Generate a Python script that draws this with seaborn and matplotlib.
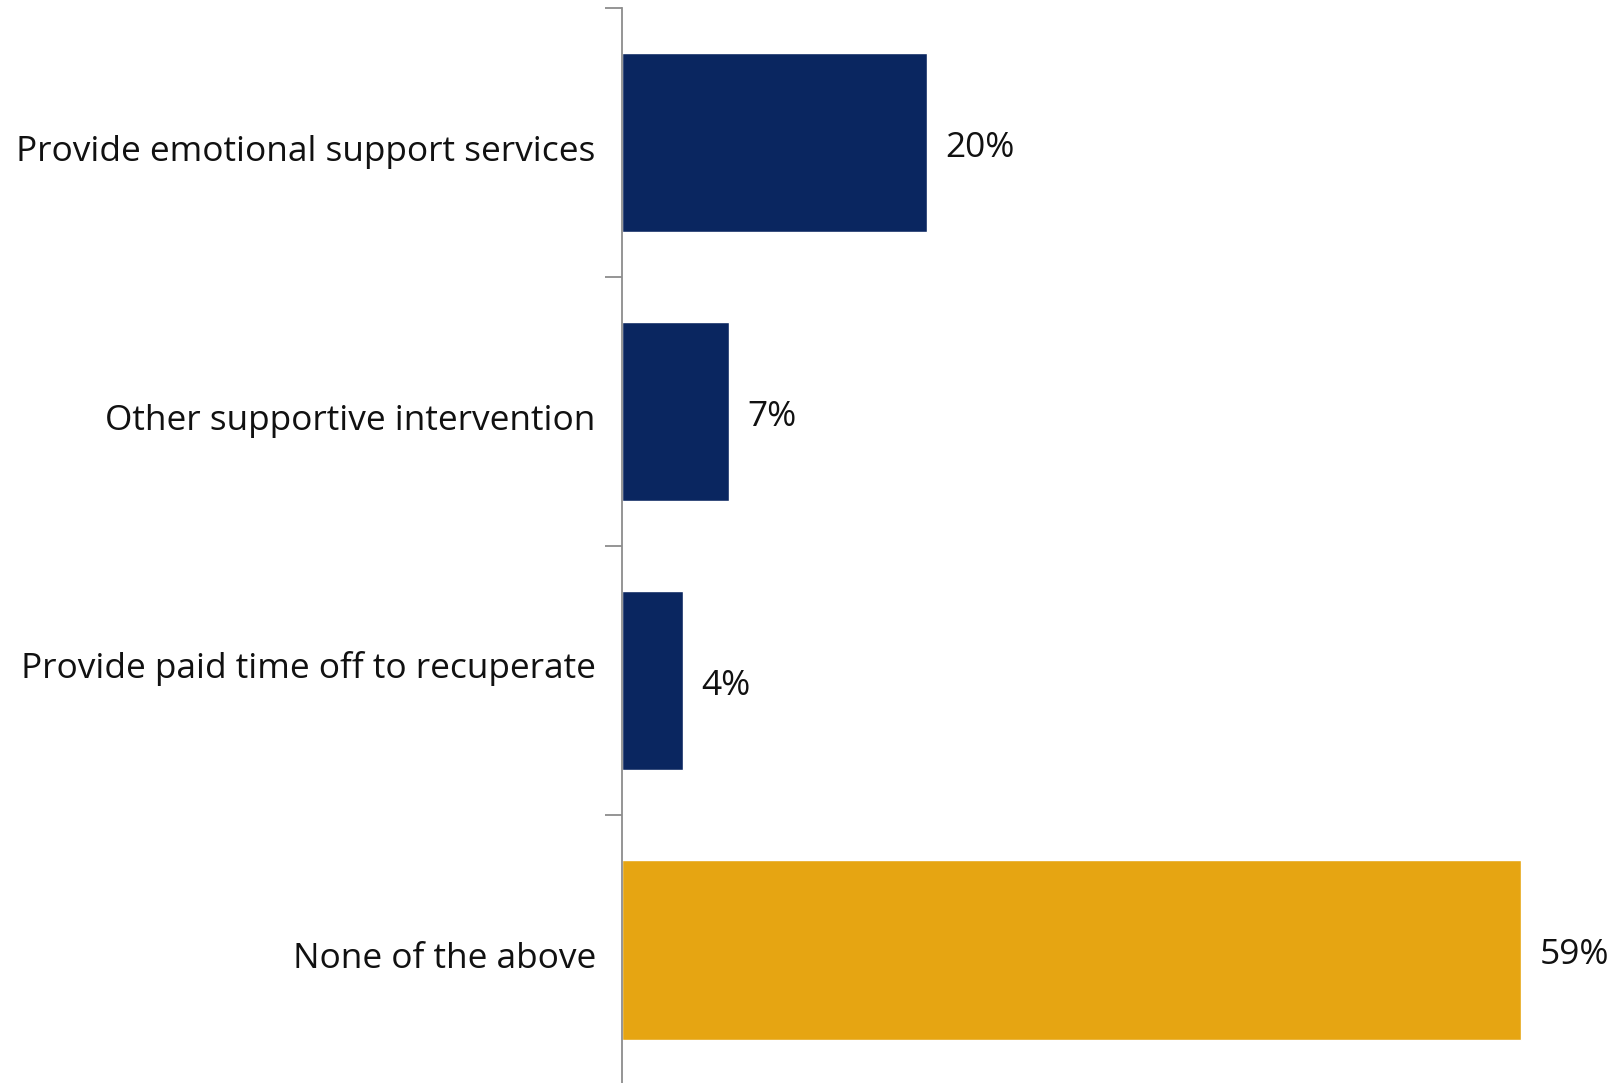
import matplotlib
matplotlib.use("Agg")
import matplotlib.pyplot as plt
import matplotlib.transforms as mtransforms
import seaborn as sns
import pandas as pd

categories = [
    "Provide emotional support services",
    "Other supportive intervention",
    "Provide paid time off to recuperate",
    "None of the above",
]
values = [20, 7, 4, 59]
value_labels = ["20%", "7%", "4%", "59%"]
bar_colors = ["#0A2660", "#0A2660", "#0A2660", "#E6A512"]
# vertical nudge of each category label, in pixels (positive = up)
label_nudge = [0, 0, 21, 0]

sns.set_theme(style="white")
plt.rcParams["font.family"] = ["Open Sans", "DejaVu Sans"]

df = pd.DataFrame({"category": categories, "value": values})

fig = plt.figure(figsize=(16.14, 10.83), dpi=100)
ax = fig.add_axes([0.3855, -0.0012, 0.6145, 0.9936])

sns.barplot(data=df, y="category", x="value", hue="category",
            palette=bar_colors, order=categories, hue_order=categories,
            width=0.667, legend=False, ax=ax, saturation=1)

ax.set_xlim(0, 65.1)
ax.set_ylim(len(categories) - 0.5, -0.5)
ax.set_xlabel("")
ax.set_ylabel("")
ax.set_xticks([])

for side in ("top", "right", "bottom"):
    ax.spines[side].set_visible(False)
ax.spines["left"].set_color("#8C8C8C")
ax.spines["left"].set_linewidth(1.3)

# text sits a few pixels below the bar centres
shift = mtransforms.ScaledTranslation(0, -5 / 100, fig.dpi_scale_trans)

# category labels centred on bars, boundary ticks between bands
ax.set_yticks(range(len(categories)))
ax.set_yticklabels(categories, fontsize=25.4, color="#111111")
ax.tick_params(axis="y", which="major", length=0, pad=19)
for lab, dy in zip(ax.get_yticklabels(), label_nudge):
    nudge = mtransforms.ScaledTranslation(0, dy / 100, fig.dpi_scale_trans)
    lab.set_transform(lab.get_transform() + shift + nudge)
ax.set_yticks([i - 0.5 for i in range(len(categories))], minor=True)
ax.tick_params(axis="y", which="minor", length=12, width=1.3, color="#8C8C8C", left=True)

for i, (v, lab) in enumerate(zip(values, value_labels)):
    ax.text(v + 1.2, i, lab, va="center", ha="left", fontsize=25.4,
            color="#111111", transform=ax.transData + shift)

fig.savefig("out.png", dpi=100)
